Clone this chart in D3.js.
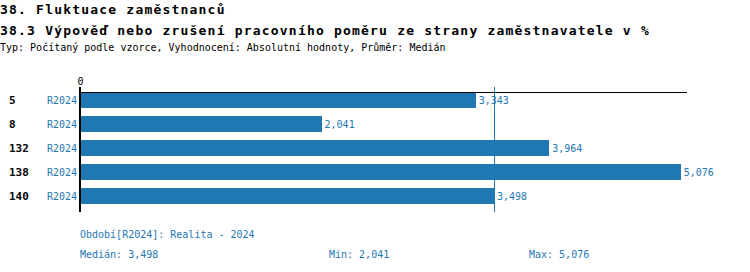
<!DOCTYPE html>
<html>
<head>
<meta charset="utf-8">
<script src="https://cdn.jsdelivr.net/npm/d3@7"></script>
<style>
  body { margin: 0; background: #fff; }
  text { font-family: "DejaVu Sans Mono", "Liberation Mono", monospace; }
</style>
</head>
<body>
<svg id="chart" width="750" height="272"></svg>
<script>
const title1 = "38. Fluktuace zaměstnanců";
const title2 = "38.3 Výpověď nebo zrušení pracovního poměru ze strany zaměstnavatele v %";
const subtitle = "Typ: Počítaný podle vzorce, Vyhodnocení: Absolutní hodnoty, Průměr: Medián";
const categories = ["5", "8", "132", "138", "140"];
const periods = ["R2024", "R2024", "R2024", "R2024", "R2024"];
const values = [3.343, 2.041, 3.964, 5.076, 3.498];
const tickValues = [0];
const periodNote = "Období[R2024]: Realita - 2024";
const median = 3.498, minVal = 2.041, maxVal = 5.076;

const fmt = v => d3.format(".3f")(v).replace(".", ",");
const blue = "#1f77b4";
const svg = d3.select("#chart");

svg.append("text").attr("x", 0).attr("y", 14).attr("font-size", 13).attr("letter-spacing", 1.2).attr("font-weight", "bold").text(title1);
svg.append("text").attr("x", 0).attr("y", 35).attr("font-size", 13).attr("letter-spacing", 1.2).attr("font-weight", "bold").text(title2);
svg.append("text").attr("x", 0).attr("y", 51).attr("font-size", 10).text(subtitle);

const x = d3.scaleLinear().domain([0, 5.12]).range([80, 686]);
const y = d3.scaleBand().domain(d3.range(categories.length)).range([88, 208]).paddingInner(0.35).paddingOuter(0.175);
const lineTop = 87, lineBottom = 212;

// median line (behind bars)
svg.append("line").attr("x1", x(median)).attr("x2", x(median)).attr("y1", lineTop).attr("y2", lineBottom)
  .attr("stroke", blue).attr("stroke-width", 1).attr("shape-rendering", "crispEdges");

// bars
svg.selectAll("rect.bar").data(values).join("rect").attr("class", "bar")
  .attr("x", x(0)).attr("y", (d, i) => y(i)).attr("width", d => x(d) - x(0)).attr("height", y.bandwidth())
  .attr("fill", blue).attr("shape-rendering", "crispEdges");

// value labels
svg.selectAll("text.val").data(values).join("text").attr("class", "val")
  .attr("x", d => x(d) + 3).attr("y", (d, i) => y(i) + y.bandwidth() / 2 + 4)
  .attr("font-size", 10).attr("fill", blue).text(d => fmt(d));

// axis top
const axis = d3.axisTop(x).tickValues(tickValues).tickSize(5).tickSizeOuter(0).tickFormat(d => d);
const ag = svg.append("g").attr("transform", "translate(0,92)").call(axis);
ag.select(".domain").attr("stroke", "#000").attr("shape-rendering", "crispEdges");
ag.selectAll(".tick line").attr("stroke", "#000");
ag.selectAll(".tick text").attr("font-size", 10).attr("font-family", "DejaVu Sans Mono").attr("fill", "#000").attr("dy", "0.1em");

// zero line
svg.append("line").attr("x1", x(0)).attr("x2", x(0)).attr("y1", lineTop).attr("y2", lineBottom)
  .attr("stroke", "#000").attr("stroke-width", 2).attr("shape-rendering", "crispEdges");

// category labels
svg.selectAll("text.cat").data(categories).join("text").attr("class", "cat")
  .attr("x", 9).attr("y", (d, i) => y(i) + y.bandwidth() / 2 + 4)
  .attr("font-size", 11).attr("font-weight", "bold").attr("fill", "#000").text(d => d);
svg.selectAll("text.per").data(periods).join("text").attr("class", "per")
  .attr("x", 77).attr("y", (d, i) => y(i) + y.bandwidth() / 2 + 4).attr("text-anchor", "end")
  .attr("font-size", 10).attr("fill", blue).text(d => d);

// footer
svg.append("text").attr("x", 80).attr("y", 238).attr("font-size", 10).attr("fill", blue).text(periodNote);
svg.append("text").attr("x", 80).attr("y", 258).attr("font-size", 10).attr("fill", blue).text("Medián: " + fmt(median));
svg.append("text").attr("x", 329).attr("y", 258).attr("font-size", 10).attr("fill", blue).text("Min: " + fmt(minVal));
svg.append("text").attr("x", 529).attr("y", 258).attr("font-size", 10).attr("fill", blue).text("Max: " + fmt(maxVal));
</script>
</body>
</html>
